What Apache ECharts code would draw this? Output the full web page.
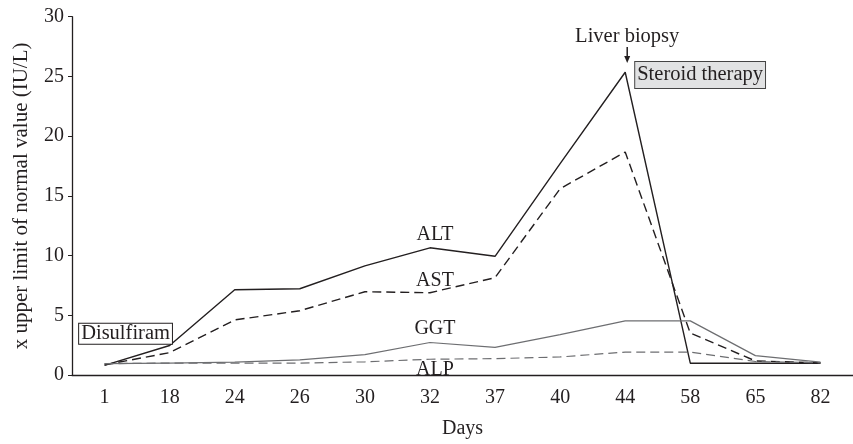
<!DOCTYPE html>
<html>
<head>
<meta charset="utf-8">
<script src="https://cdn.jsdelivr.net/npm/echarts@6/dist/echarts.min.js"></script>
<style>
html,body{margin:0;padding:0;background:#fff;}
#chart{width:853px;height:444px;}
</style>
</head>
<body>
<div id="chart"></div>
<script>
var days = ['1','18','24','26','30','32','37','40','44','58','65','82'];
var alt = [0.8, 2.47, 7.14, 7.22, 9.14, 10.65, 9.94, 17.7, 25.35, 0.99, 0.99, 0.99];
var ast = [0.85, 1.87, 4.61, 5.38, 6.97, 6.89, 8.15, 15.6, 18.67, 3.51, 1.18, 1.02];
var ggt = [0.95, 1.0, 1.07, 1.26, 1.7, 2.72, 2.31, 3.38, 4.53, 4.53, 1.62, 1.07];
var alp = [0.95, 1.0, 0.99, 1.0, 1.1, 1.32, 1.37, 1.51, 1.92, 1.92, 1.13, 1.02];
var yTicks = [0, 5, 10, 15, 20, 25, 30];
var seriesLabels = [
  {text: 'ALT', day: '32', value: 11.75},
  {text: 'AST', day: '32', value: 7.85},
  {text: 'GGT', day: '32', value: 3.85},
  {text: 'ALP', day: '32', value: 0.4}
];

var FONT = 'Liberation Serif';
var INK = '#231f20';
var GRAY = '#6d6e71';

var chart = echarts.init(document.getElementById('chart'));
var option = {
  animation: false,
  backgroundColor: '#fff',
  grid: {left: 72, top: 16.7, width: 784, height: 364.3, containLabel: false},
  xAxis: {
    type: 'category',
    data: days,
    boundaryGap: true,
    name: 'Days',
    nameLocation: 'middle',
    nameGap: 44,
    nameTextStyle: {fontFamily: FONT, fontSize: 20, color: INK},
    axisLine: {lineStyle: {color: INK, width: 1.3}},
    axisTick: {alignWithLabel: true, length: 5, lineStyle: {color: INK, width: 1}},
    axisLabel: {fontFamily: FONT, fontSize: 20, color: INK, margin: 13},
    splitLine: {show: false}
  },
  yAxis: {
    type: 'value',
    min: yTicks[0],
    max: yTicks[yTicks.length - 1],
    interval: 5,
    name: 'x upper limit of normal value (IU/L)',
    nameLocation: 'middle',
    nameGap: 40,
    nameTextStyle: {fontFamily: FONT, fontSize: 21, color: INK},
    axisLine: {show: true, lineStyle: {color: INK, width: 1.3}},
    axisTick: {show: true, length: 4, lineStyle: {color: INK, width: 1}},
    axisLabel: {fontFamily: FONT, fontSize: 20, color: INK, margin: 8},
    splitLine: {show: false}
  },
  series: [
    {name: 'ALT', type: 'line', data: alt, symbol: 'none', lineStyle: {color: INK, width: 1.4, type: 'solid'}},
    {name: 'AST', type: 'line', data: ast, symbol: 'none', lineStyle: {color: INK, width: 1.4, type: [9, 5]}},
    {name: 'GGT', type: 'line', data: ggt, symbol: 'none', lineStyle: {color: GRAY, width: 1.2, type: 'solid'}},
    {name: 'ALP', type: 'line', data: alp, symbol: 'none', lineStyle: {color: GRAY, width: 1.2, type: [9, 5]}}
  ]
};
chart.setOption(option);

var g = [];
seriesLabels.forEach(function (l) {
  var p = chart.convertToPixel({gridIndex: 0}, [l.day, l.value]);
  g.push({type: 'text', x: p[0] + 5, y: p[1], z: 10,
    style: {text: l.text, font: '20px "' + FONT + '"', fill: INK, align: 'center', verticalAlign: 'middle'}});
});
// Disulfiram box near day 1
var p1 = chart.convertToPixel({gridIndex: 0}, ['1', 3.45]);
g.push({type: 'text', x: p1[0] + 21, y: p1[1], z: 10,
  style: {text: 'Disulfiram', font: '20.5px "' + FONT + '"', fill: INK, align: 'center', verticalAlign: 'middle',
    backgroundColor: '#fff', borderColor: INK, borderWidth: 1, padding: [0, 2, -1, 2]}});
// Liver biopsy arrow at day 44
var p44 = chart.convertToPixel({gridIndex: 0}, ['44', 25.35]);
g.push({type: 'text', x: p44[0] + 2, y: 37, z: 10,
  style: {text: 'Liver biopsy', font: '20.5px "' + FONT + '"', fill: INK, align: 'center', verticalAlign: 'middle'}});
g.push({type: 'line', z: 10, shape: {x1: p44[0] + 2, y1: 47, x2: p44[0] + 2, y2: 58}, style: {stroke: INK, lineWidth: 1.5}});
g.push({type: 'polygon', z: 10, shape: {points: [[p44[0] - 1, 56], [p44[0] + 5, 56], [p44[0] + 2, 63]]}, style: {fill: INK}});
g.push({type: 'text', x: p44[0] + 10, y: 75, z: 10,
  style: {text: 'Steroid therapy', font: '20.5px "' + FONT + '"', fill: INK, align: 'left', verticalAlign: 'middle',
    backgroundColor: '#e1e2e3', borderColor: '#444', borderWidth: 1, padding: [3, 2, 2, 2]}});
chart.setOption({graphic: g});
</script>
</body>
</html>
